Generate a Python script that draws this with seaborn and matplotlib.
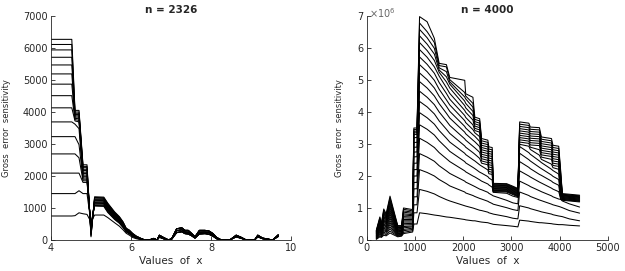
import matplotlib
matplotlib.use("Agg")
import matplotlib.pyplot as plt
import numpy as np
import pandas as pd
import seaborn as sns

# ---------------- left panel, n = 2326 ----------------
left_x_head = [4.0, 4.52, 4.60, 4.70, 4.80, 4.90, 5.00, 5.09, 5.32, 5.42,
               5.59, 5.71, 5.80, 5.88, 5.96, 6.04, 6.13, 6.25, 6.35]
left_heads = [
    [6270, 6270, 4050, 4050, 2350, 2350, 100, 1350, 1340, 1150, 880, 730, 570, 370, 310, 210, 125, 50, 0],
    [6110, 6110, 4000, 4000, 2300, 2300, 130, 1330, 1320, 1130, 860, 710, 560, 360, 300, 200, 120, 48, 0],
    [5940, 5940, 3960, 3960, 2260, 2260, 160, 1310, 1300, 1110, 840, 700, 540, 350, 290, 190, 115, 45, 0],
    [5710, 5710, 3920, 3920, 2210, 2210, 190, 1280, 1270, 1080, 820, 680, 530, 340, 280, 190, 110, 43, 0],
    [5470, 5470, 3880, 3880, 2170, 2170, 220, 1260, 1250, 1060, 810, 670, 520, 330, 270, 180, 105, 41, 0],
    [5190, 5190, 3840, 3840, 2120, 2120, 250, 1240, 1230, 1040, 790, 650, 500, 320, 260, 170, 100, 38, 0],
    [4870, 4870, 3800, 3790, 2080, 2080, 280, 1220, 1210, 1020, 770, 630, 490, 310, 250, 160, 95, 36, 0],
    [4510, 4510, 3760, 3740, 2030, 2030, 310, 1190, 1180, 990, 750, 620, 470, 300, 240, 160, 90, 34, 0],
    [4130, 4130, 3720, 3690, 1990, 1990, 340, 1170, 1160, 970, 730, 600, 460, 300, 240, 150, 85, 31, 0],
    [3690, 3690, 3620, 3480, 1940, 1940, 370, 1150, 1140, 950, 710, 580, 450, 290, 230, 140, 80, 29, 0],
    [3230, 3230, 3230, 2980, 1900, 1900, 400, 1130, 1120, 930, 690, 570, 430, 280, 220, 130, 75, 27, 0],
    [2690, 2690, 2690, 2570, 1850, 1850, 440, 1100, 1090, 900, 680, 550, 420, 270, 210, 130, 70, 24, 0],
    [2090, 2090, 2090, 2090, 1800, 1800, 480, 1080, 1070, 880, 660, 540, 400, 260, 200, 120, 65, 22, 0],
    [1450, 1450, 1450, 1540, 1450, 1450, 520, 1060, 1050, 860, 640, 520, 390, 250, 190, 110, 60, 20, 0],
    [750, 750, 760, 850, 820, 800, 560, 780, 780, 700, 540, 430, 320, 210, 150, 80, 40, 10, 0],
]
left_x_tail = [6.45, 6.57, 6.65, 6.71, 6.81, 6.94, 7.02, 7.14, 7.27, 7.35, 7.43, 7.52, 7.60, 7.71,
               7.85, 7.95, 8.05, 8.14, 8.26, 8.47, 8.63, 8.76, 8.88, 9.09, 9.17, 9.29, 9.54, 9.68]
tail_high = [0, 50, 0, 150, 80, 0, 50, 350, 380, 300, 300, 200, 100, 300,
             300, 280, 200, 80, 0, 0, 150, 80, 0, 0, 150, 60, 0, 160]
tail_mid = [0, 40, 0, 120, 60, 0, 40, 290, 320, 250, 245, 165, 80, 245,
            250, 230, 160, 60, 0, 0, 125, 65, 0, 0, 125, 50, 0, 135]
tail_low = [0, 30, 0, 90, 40, 0, 30, 230, 260, 200, 190, 130, 60, 190,
            200, 180, 120, 40, 0, 0, 100, 50, 0, 0, 100, 40, 0, 110]

# ---------------- right panel, n = 4000 (values x 1e6) ----------------
right_x_a = [195, 270, 300, 350, 400, 480, 530, 640, 720, 760, 950, 975, 1040]
right_x_b = [1093, 1250, 1400, 1500, 1650, 1720, 2030, 2050, 2200, 2240,
             2340, 2380, 2510, 2530, 2600, 2620, 2900, 3030, 3133]
right_x_c = [3170, 3360, 3390, 3580, 3620, 3830, 3860, 3980, 4020, 4055, 4200, 4413]

right_a = [
    [.30, .72, .50, .97, .82, 1.37, 1.08, .45, .45, 1.00, .95, 3.50, 3.50],
    [.28, .69, .48, .92, .78, 1.31, 1.03, .43, .43, .96, .91, 3.45, 3.45],
    [.27, .65, .45, .88, .74, 1.24, .98, .41, .41, .91, .87, 3.40, 3.40],
    [.25, .62, .43, .83, .71, 1.18, .93, .39, .39, .87, .83, 3.35, 3.35],
    [.24, .58, .41, .79, .67, 1.11, .88, .37, .38, .82, .79, 3.30, 3.30],
    [.22, .55, .38, .74, .63, 1.05, .83, .35, .36, .78, .76, 3.20, 3.20],
    [.21, .51, .36, .70, .59, .99, .78, .33, .34, .73, .72, 3.05, 3.05],
    [.19, .48, .34, .65, .55, .92, .73, .31, .32, .69, .68, 2.90, 2.90],
    [.18, .44, .31, .61, .51, .86, .68, .29, .30, .64, .64, 2.75, 2.75],
    [.16, .41, .29, .56, .48, .80, .63, .28, .29, .60, .60, 2.60, 2.60],
    [.14, .38, .27, .51, .44, .73, .58, .26, .27, .56, .56, 2.40, 2.40],
    [.13, .34, .24, .47, .40, .67, .53, .24, .25, .51, .52, 2.20, 2.20],
    [.11, .31, .22, .42, .36, .60, .48, .22, .23, .47, .48, 2.00, 2.00],
    [.10, .27, .20, .38, .32, .54, .43, .20, .21, .42, .44, 1.80, 1.80],
    [.08, .24, .17, .33, .28, .48, .38, .18, .19, .38, .41, 1.60, 1.60],
    [.07, .20, .15, .29, .25, .41, .33, .16, .18, .33, .37, 1.35, 1.35],
    [.05, .17, .13, .24, .21, .35, .28, .14, .16, .29, .33, 1.10, 1.10],
    [.04, .13, .10, .20, .17, .28, .23, .12, .14, .24, .29, .85, .85],
    [.02, .10, .08, .15, .13, .22, .18, .10, .12, .20, .25, .50, .50],
]
right_b = [
    [6.98, 6.82, 6.30, 5.52, 5.48, 5.08, 4.99, 4.57, 4.46, 3.84, 3.79, 3.17, 3.12, 2.91, 2.89, 1.77, 1.76, 1.68, 1.61],
    [6.78, 6.51, 6.17, 5.45, 5.41, 5.01, 4.61, 4.50, 4.27, 3.77, 3.72, 3.10, 3.05, 2.84, 2.82, 1.75, 1.74, 1.66, 1.59],
    [6.58, 6.32, 5.99, 5.38, 5.26, 4.94, 4.47, 4.41, 4.15, 3.70, 3.65, 3.03, 2.98, 2.77, 2.75, 1.73, 1.72, 1.64, 1.57],
    [6.38, 6.12, 5.81, 5.31, 5.10, 4.87, 4.34, 4.27, 4.02, 3.63, 3.58, 2.96, 2.91, 2.70, 2.68, 1.71, 1.70, 1.62, 1.55],
    [6.17, 5.92, 5.61, 5.24, 4.94, 4.75, 4.20, 4.13, 3.89, 3.56, 3.51, 2.89, 2.84, 2.63, 2.61, 1.69, 1.68, 1.60, 1.53],
    [5.95, 5.71, 5.41, 5.12, 4.76, 4.58, 4.05, 3.99, 3.75, 3.49, 3.44, 2.82, 2.77, 2.56, 2.54, 1.67, 1.66, 1.58, 1.51],
    [5.72, 5.49, 5.21, 4.92, 4.58, 4.40, 3.89, 3.83, 3.60, 3.42, 3.37, 2.75, 2.70, 2.49, 2.47, 1.65, 1.64, 1.56, 1.49],
    [5.48, 5.26, 4.99, 4.71, 4.38, 4.22, 3.73, 3.67, 3.45, 3.35, 3.23, 2.68, 2.63, 2.42, 2.40, 1.63, 1.62, 1.54, 1.47],
    [5.22, 5.01, 4.75, 4.49, 4.18, 4.02, 3.55, 3.50, 3.29, 3.24, 3.08, 2.61, 2.56, 2.35, 2.33, 1.61, 1.60, 1.52, 1.45],
    [4.95, 4.75, 4.50, 4.26, 3.96, 3.81, 3.37, 3.32, 3.12, 3.07, 2.92, 2.54, 2.49, 2.28, 2.26, 1.59, 1.58, 1.50, 1.43],
    [4.65, 4.46, 4.23, 4.00, 3.72, 3.58, 3.16, 3.12, 2.93, 2.88, 2.74, 2.47, 2.42, 2.21, 2.19, 1.57, 1.56, 1.48, 1.41],
    [4.33, 4.16, 3.94, 3.72, 3.46, 3.33, 2.94, 2.90, 2.73, 2.68, 2.55, 2.40, 2.35, 2.14, 2.12, 1.55, 1.54, 1.46, 1.39],
    [3.98, 3.82, 3.62, 3.42, 3.18, 3.06, 2.71, 2.67, 2.51, 2.47, 2.35, 2.31, 2.19, 2.07, 2.05, 1.53, 1.52, 1.44, 1.37],
    [3.60, 3.46, 3.28, 3.10, 2.88, 2.77, 2.45, 2.41, 2.27, 2.23, 2.12, 2.09, 1.98, 1.94, 1.87, 1.51, 1.50, 1.42, 1.35],
    [3.18, 3.05, 2.89, 2.73, 2.54, 2.45, 2.16, 2.13, 2.00, 1.97, 1.88, 1.84, 1.75, 1.72, 1.65, 1.49, 1.46, 1.37, 1.33],
    [2.70, 2.59, 2.46, 2.32, 2.16, 2.08, 1.84, 1.81, 1.70, 1.67, 1.59, 1.57, 1.49, 1.46, 1.40, 1.38, 1.24, 1.16, 1.13],
    [2.20, 2.11, 2.00, 1.89, 1.76, 1.69, 1.50, 1.47, 1.39, 1.36, 1.30, 1.28, 1.21, 1.19, 1.14, 1.12, 1.01, 0.95, 0.92],
    [1.58, 1.52, 1.44, 1.36, 1.26, 1.22, 1.07, 1.06, 1.00, 0.98, 0.93, 0.92, 0.87, 0.85, 0.82, 0.81, 0.73, 0.68, 0.66],
    [0.85, 0.82, 0.78, 0.76, 0.72, 0.71, 0.64, 0.63, 0.60, 0.60, 0.57, 0.56, 0.54, 0.53, 0.50, 0.49, 0.45, 0.43, 0.41],
]
right_c = [
    [3.69, 3.65, 3.53, 3.51, 3.22, 3.17, 2.96, 2.93, 2.18, 1.45, 1.43, 1.40],
    [3.62, 3.58, 3.46, 3.44, 3.15, 3.10, 2.89, 2.86, 2.11, 1.43, 1.41, 1.38],
    [3.55, 3.51, 3.39, 3.37, 3.08, 3.03, 2.82, 2.79, 2.04, 1.42, 1.40, 1.37],
    [3.48, 3.44, 3.32, 3.30, 3.01, 2.96, 2.75, 2.72, 1.97, 1.40, 1.38, 1.35],
    [3.41, 3.37, 3.25, 3.23, 2.94, 2.89, 2.68, 2.65, 1.90, 1.39, 1.37, 1.34],
    [3.34, 3.30, 3.18, 3.16, 2.87, 2.82, 2.61, 2.58, 1.83, 1.38, 1.36, 1.33],
    [3.27, 3.23, 3.11, 3.09, 2.80, 2.75, 2.54, 2.51, 1.76, 1.36, 1.34, 1.31],
    [3.20, 3.16, 3.04, 3.02, 2.73, 2.68, 2.47, 2.44, 1.69, 1.35, 1.33, 1.30],
    [3.13, 3.09, 2.97, 2.95, 2.66, 2.61, 2.40, 2.37, 1.62, 1.33, 1.31, 1.28],
    [3.06, 3.02, 2.90, 2.82, 2.59, 2.52, 2.33, 2.30, 1.55, 1.32, 1.30, 1.27],
    [2.99, 2.93, 2.83, 2.65, 2.52, 2.37, 2.26, 2.21, 1.48, 1.30, 1.28, 1.25],
    [2.92, 2.73, 2.68, 2.47, 2.42, 2.21, 2.17, 2.06, 1.41, 1.29, 1.27, 1.24],
    [2.71, 2.51, 2.47, 2.27, 2.23, 2.03, 1.99, 1.89, 1.34, 1.27, 1.25, 1.22],
    [2.45, 2.27, 2.23, 2.05, 2.02, 1.84, 1.80, 1.71, 1.27, 1.26, 1.24, 1.21],
    [2.16, 2.00, 1.97, 1.81, 1.78, 1.62, 1.59, 1.51, 1.30, 1.24, 1.22, 1.19],
    [1.84, 1.70, 1.67, 1.54, 1.51, 1.38, 1.35, 1.28, 1.27, 1.22, 1.13, 1.03],
    [1.50, 1.39, 1.36, 1.25, 1.23, 1.12, 1.10, 1.05, 1.03, 1.01, 0.92, 0.84],
    [1.07, 1.00, 0.98, 0.90, 0.88, 0.81, 0.79, 0.75, 0.74, 0.73, 0.66, 0.60],
    [0.62, 0.59, 0.58, 0.54, 0.54, 0.51, 0.50, 0.48, 0.48, 0.48, 0.46, 0.44],
]

# long tables for seaborn
rows = []
for i, head in enumerate(left_heads):
    tail = tail_high if i < 5 else (tail_mid if i < 10 else tail_low)
    for x, y in zip(left_x_head + left_x_tail, head + tail):
        rows.append((i, x, y))
df_left = pd.DataFrame(rows, columns=["curve", "x", "y"])

rows = []
right_x = right_x_a + right_x_b + right_x_c
for i in range(len(right_b)):
    for x, y in zip(right_x, right_a[i] + right_b[i] + right_c[i]):
        rows.append((i, x, y))
df_right = pd.DataFrame(rows, columns=["curve", "x", "y"])

sns.set_style("ticks")
plt.rcParams["font.family"] = ["DejaVu Sans"]
narrow = ["Liberation Sans Narrow", "DejaVu Sans"]

fig = plt.figure(figsize=(6.25, 2.71), dpi=100)
ax1 = fig.add_axes([0.0816, 0.1144, 0.384, 0.8266])
ax2 = fig.add_axes([0.587, 0.1144, 0.3856, 0.8266])

for ax, df in [(ax1, df_left), (ax2, df_right)]:
    sns.lineplot(data=df, x="x", y="y", units="curve", estimator=None, sort=False,
                 color="black", lw=0.75, ax=ax, legend=False)
    sns.despine(ax=ax)
    for s in ["left", "bottom"]:
        ax.spines[s].set_linewidth(0.6)
    ax.tick_params(direction="in", length=3, width=0.6, labelsize=7, pad=2.5)
    ax.set_xlabel("Values  of  x", fontsize=7.5)
    ax.set_ylabel("Gross  error  sensitivity", fontsize=6, family=narrow)

ax1.set_xlim(4, 10)
ax1.set_ylim(0, 7000)
ax1.set_xticks([4, 6, 8, 10])
ax1.set_yticks(np.arange(0, 7001, 1000))
ax1.set_title("n = 2326", fontsize=7.5, fontweight="bold", pad=2)
ax1.yaxis.set_label_coords(-0.165, 0.5)
ax1.xaxis.set_label_coords(0.5, -0.07)

ax2.set_xlim(0, 5000)
ax2.set_ylim(0, 7)
ax2.set_xticks(np.arange(0, 5001, 1000))
ax2.set_yticks(np.arange(0, 8, 1))
ax2.set_title("n = 4000", fontsize=7.5, fontweight="bold", pad=2)
ax2.yaxis.set_label_coords(-0.095, 0.5)
ax2.xaxis.set_label_coords(0.5, -0.07)
ax2.text(0.01, 1.015, r"$\times 10^6$", transform=ax2.transAxes, fontsize=7,
         color="0.4", ha="left", va="center")

fig.savefig("out.png", dpi=100)
